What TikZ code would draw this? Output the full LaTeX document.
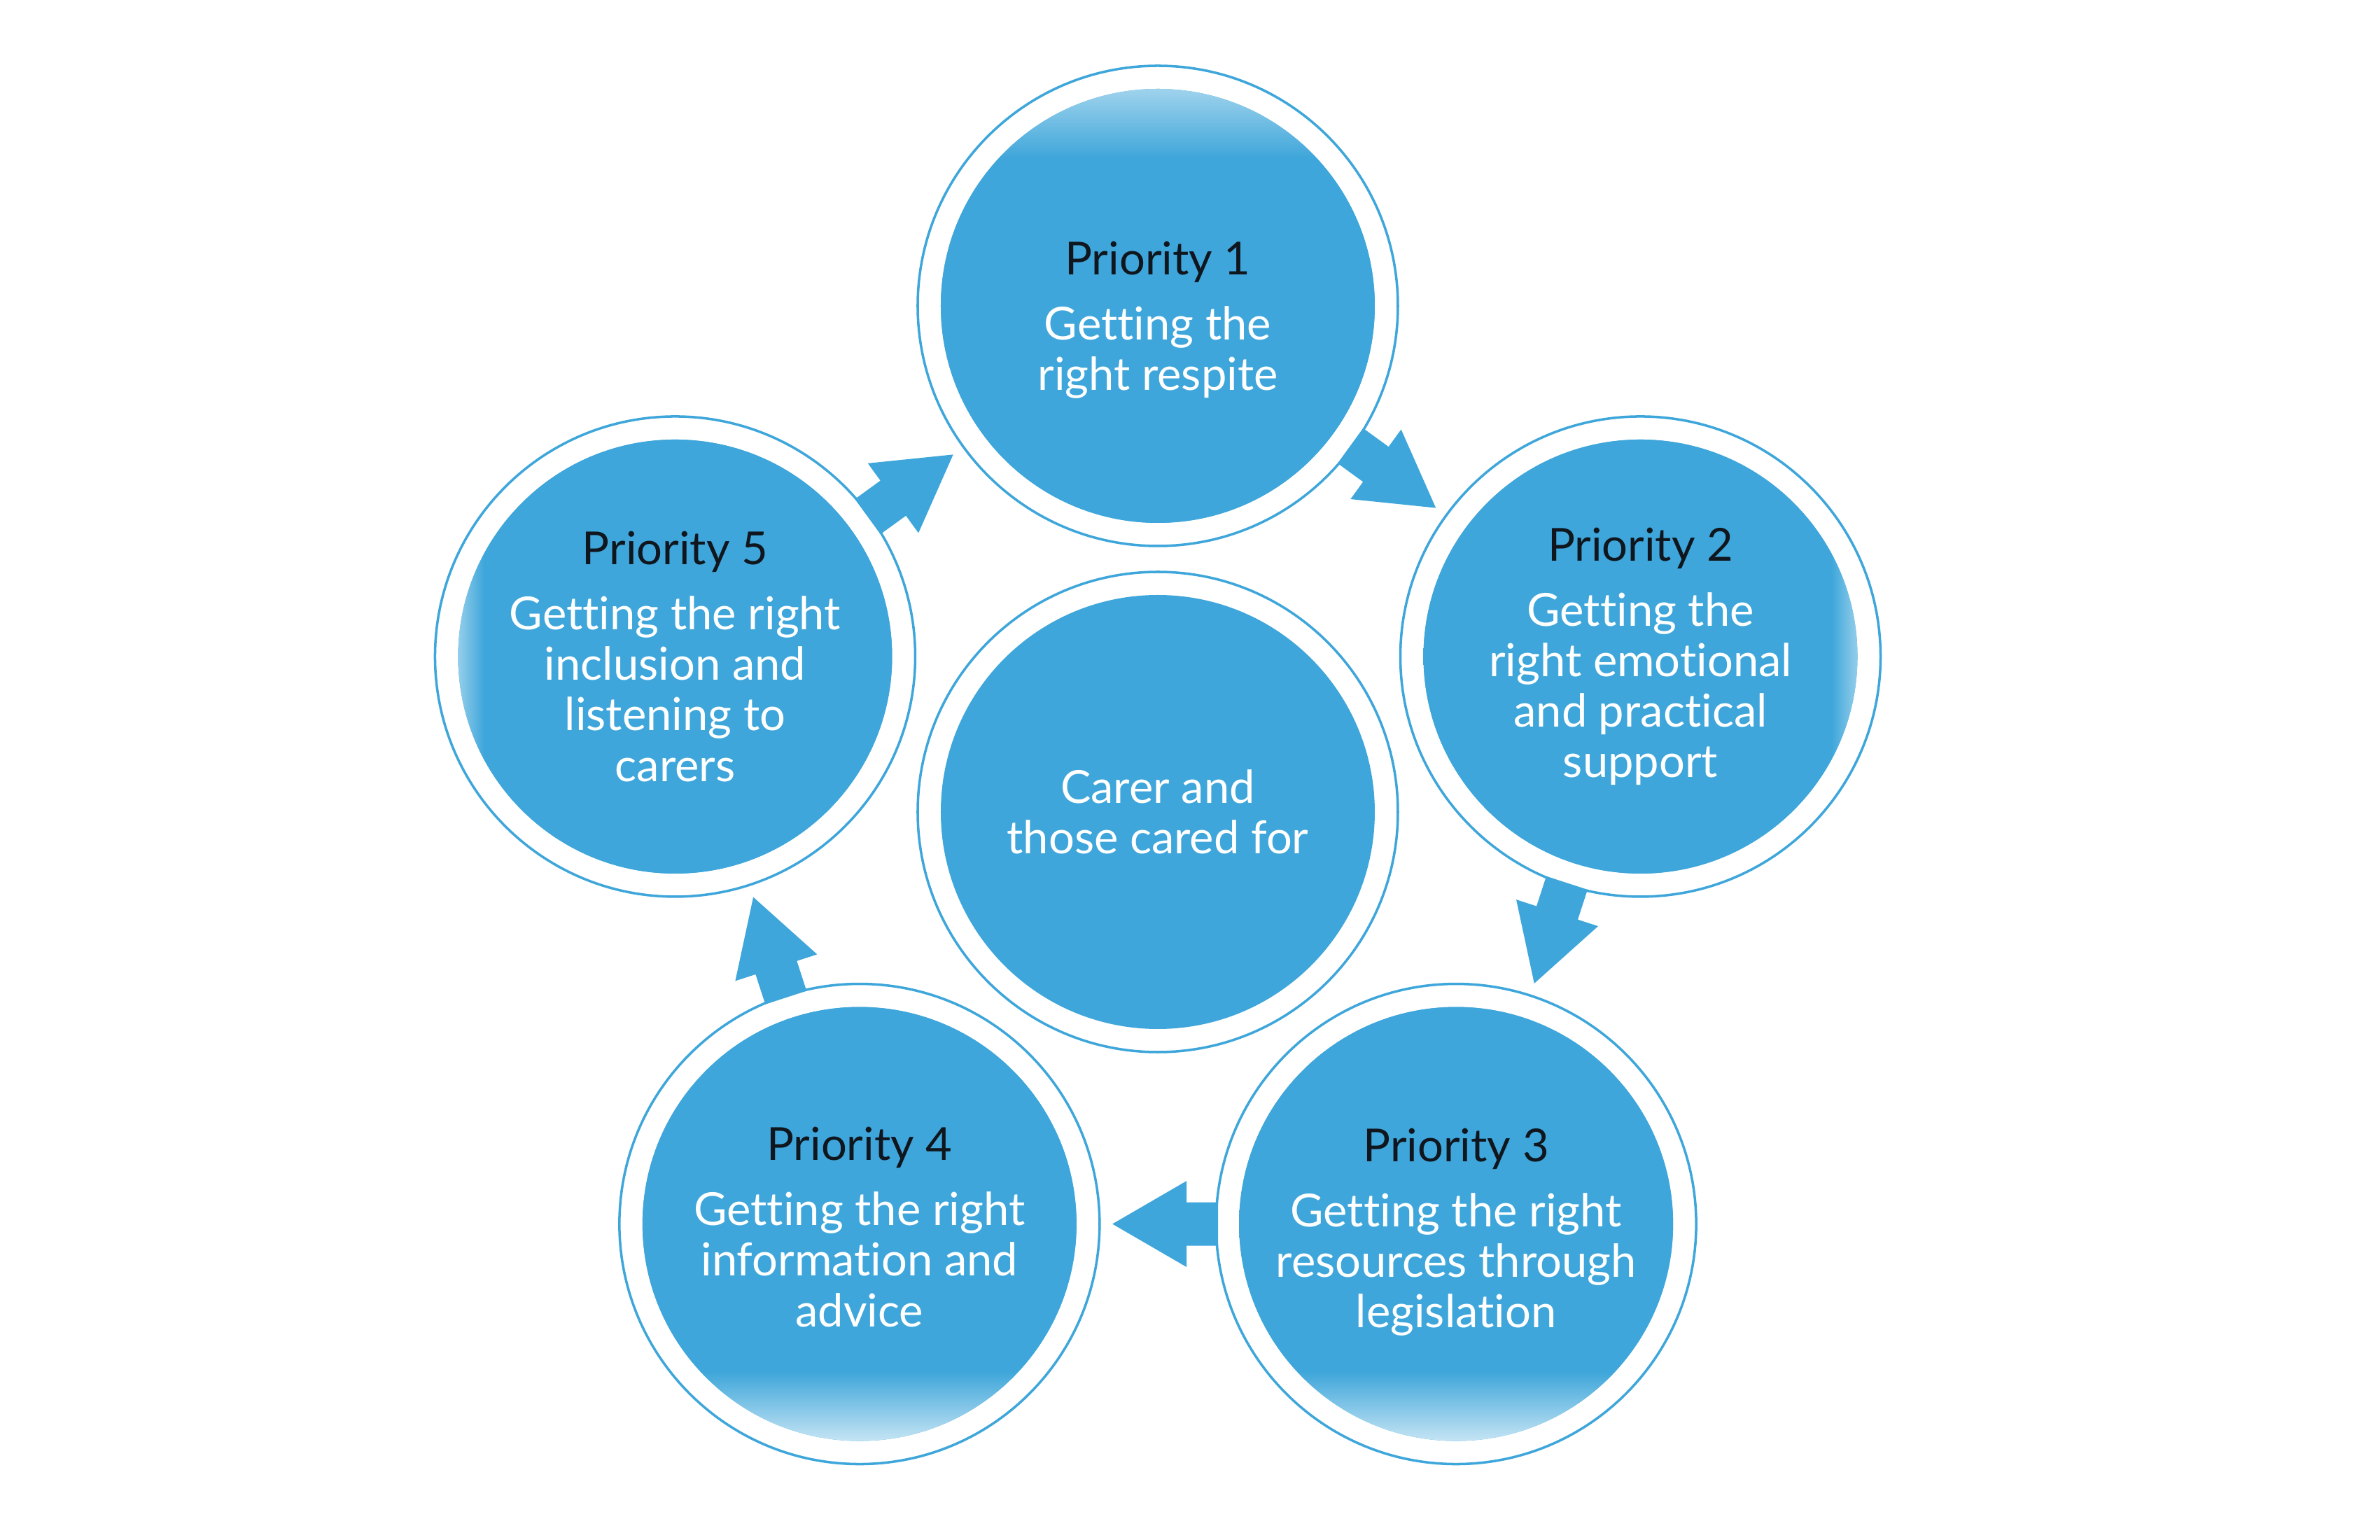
\documentclass[tikz,border=0pt]{standalone}
\usepackage{fontspec}
\setmainfont{Lato}[Ligatures={NoCommon}]
\usepackage{tikz}
\usetikzlibrary{calc}
\definecolor{priob}{RGB}{62,166,218}
\definecolor{hdrc}{RGB}{16,22,30}
% soft edges towards the outside of the picture
\pgfdeclareverticalshading{topfade}{100bp}{color(0bp)=(priob); color(67bp)=(priob); color(75bp)=(priob!50); color(100bp)=(priob!50)}
\pgfdeclareverticalshading{botfade}{100bp}{color(0bp)=(priob!30); color(25bp)=(priob!30); color(33bp)=(priob); color(100bp)=(priob)}
\pgfdeclarehorizontalshading{leftfade}{100bp}{color(0bp)=(priob!55); color(25bp)=(priob!55); color(28bp)=(priob); color(100bp)=(priob)}
\pgfdeclarehorizontalshading{rightfade}{100bp}{color(0bp)=(priob); color(72bp)=(priob); color(75bp)=(priob!55); color(100bp)=(priob!55)}
\newcommand{\phead}[2][0pt]{\rule{0pt}{#1}\textcolor{hdrc}{#2}\\[6pt]}
\tikzset{
  flow/.pic={\fill[priob] (0,-0.31) -- (0.45,-0.31) -- (0.45,-0.615) -- (1.51,0) -- (0.45,0.615) -- (0.45,0.31) -- (0,0.31) -- cycle;}
}

\begin{document}
\begin{tikzpicture}[prio/.style={circle, minimum size=6.2cm, inner sep=0pt, fill=priob, text=white, align=center, font=\fontsize{18.5}{20.5}\selectfont},
  ring/.style={draw=priob, line width=1pt}]
  \useasboundingbox (-16.54,-10.38) rectangle (17.46,11.62);
  % circles
  \node[prio, shading=topfade] (p1) at (90:7.25) {\phead[25pt]{Priority 1}Getting the\\right respite};
  \node[prio, shading=rightfade] (p2) at (18:7.25) {\phead{Priority 2}Getting the\\right emotional\\and practical\\support};
  \node[prio, shading=botfade] (p3) at (-54:7.25) {\phead[20pt]{Priority 3}Getting the right\\resources through\\legislation};
  \node[prio, shading=botfade] (p4) at (-126:7.25) {\phead[16pt]{Priority 4}Getting the right\\information and\\advice};
  \node[prio, shading=leftfade] (p5) at (162:7.25) {\phead{Priority 5}Getting the right\\inclusion and\\listening to\\carers};
  \node[prio] (c) at (0,0.02) {Carer and\\those cared for};
  \foreach \n in {p1,p2,p3,p4,p5,c}
    \draw[ring] (\n.center) circle (3.43);
  % arrows
  \pic[rotate=-36] at ($(p1)!3.4cm!(p2)$) {flow};
  \pic[rotate=-108] at ($(p2)!3.4cm!(p3)$) {flow};
  \pic[rotate=180] at ($(p3)!3.4cm!(p4)$) {flow};
  \pic[rotate=108] at ($(p4)!3.4cm!(p5)$) {flow};
  \pic[rotate=36] at ($(p5)!3.4cm!(p1)$) {flow};
\end{tikzpicture}
\end{document}
